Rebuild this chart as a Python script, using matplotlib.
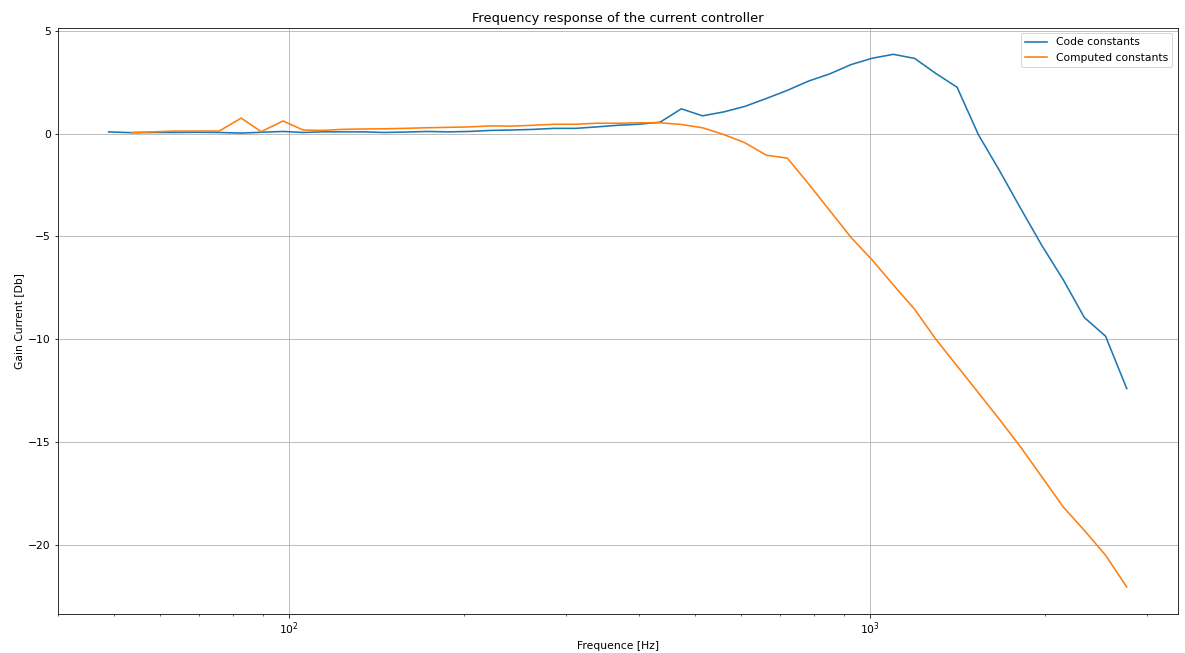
import numpy as np
import matplotlib
matplotlib.use("Agg")
import matplotlib.pyplot as plt

# Measurement frequencies (Hz)
freqs = [48.9, 53.6, 58.4, 63.6, 69.6, 75.8, 82.7, 89.5, 97.6, 105.7,
         113.8, 123.2, 134.0, 145.7, 158.5, 172.5, 187.6, 204.0, 221.9, 241.4,
         262.6, 285.6, 310.7, 337.9, 367.6, 399.9, 434.9, 473.1, 514.5, 559.7,
         608.8, 662.2, 720.3, 783.4, 852.1, 926.8, 1008, 1096, 1193, 1297,
         1411, 1535, 1669, 1816, 1975, 2148, 2337, 2541, 2764]

# Gain with the constants from the code (dB)
gain_code = [0.08, 0.04, 0.05, 0.05, 0.06, 0.05, 0.02, 0.06, 0.10, 0.05,
             0.08, 0.08, 0.08, 0.05, 0.07, 0.10, 0.08, 0.10, 0.15, 0.17,
             0.20, 0.25, 0.25, 0.32, 0.40, 0.45, 0.55, 1.20, 0.86, 1.05,
             1.32, 1.70, 2.10, 2.55, 2.90, 3.35, 3.66, 3.85, 3.65, 2.92,
             2.25, -0.05, -1.80, -3.65, -5.45, -7.10, -8.95, -9.85, -12.40]

# Gain with the computed constants (dB), first frequency not measured
freqs_computed = freqs[1:]
gain_computed = [0.05, 0.08, 0.12, 0.12, 0.12, 0.75, 0.09, 0.61, 0.17,
                 0.15, 0.20, 0.22, 0.23, 0.25, 0.28, 0.30, 0.32, 0.37, 0.36,
                 0.40, 0.45, 0.45, 0.50, 0.50, 0.52, 0.52, 0.44, 0.28, -0.05,
                 -0.45, -1.05, -1.20, -2.45, -3.75, -5.05, -6.15, -7.36, -8.55, -10.0,
                 -11.3, -12.6, -13.9, -15.25, -16.7, -18.15, -19.3, -20.5, -22.05]

plt.rcParams['font.size'] = 10.8
plt.rcParams['lines.linewidth'] = 1.6

fig = plt.figure(figsize=(1185 / 72, 653 / 72), dpi=72)
fig.subplots_adjust(left=0.0487, right=0.9938, bottom=0.0602, top=0.9576)

plt.plot(freqs, gain_code, label='Code constants')
plt.plot(freqs_computed, gain_computed, label='Computed constants')
plt.xscale('log')
plt.grid(True)
plt.title('Frequency response of the current controller')
plt.xlabel('Frequence [Hz]')
plt.ylabel('Gain Current [Db]')
plt.legend(loc='upper right')

plt.savefig('out.png', dpi=72)
